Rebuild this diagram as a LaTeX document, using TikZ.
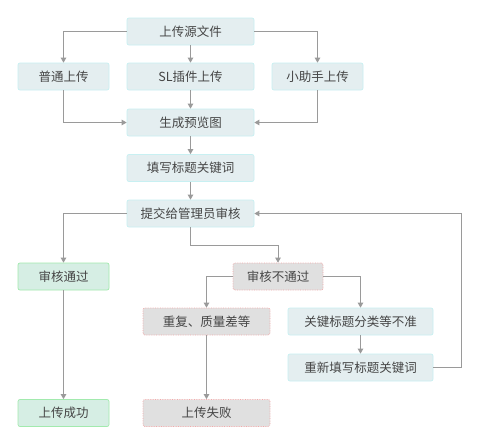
\documentclass[tikz,border=0pt]{standalone}
\usepackage{fontspec}
\setmainfont{Noto Sans CJK SC}
\usetikzlibrary{arrows.meta,positioning}
\definecolor{FlowLine}{HTML}{9A9A9A}
\definecolor{FlowText}{HTML}{454545}
\definecolor{StepBack}{HTML}{E4EEF0}
\definecolor{StepEdge}{HTML}{C8F0F2}
\definecolor{OkBack}{HTML}{D6EEE4}
\definecolor{OkEdge}{HTML}{A2EAAE}
\definecolor{BadBack}{HTML}{E0E0E0}
\definecolor{BadEdge}{HTML}{F2AAAA}
\tikzset{>={Triangle[length=5pt,width=5.5pt]},every node/.style={font=\fontsize{12.5}{14}\selectfont,text=FlowText},
 stepbox/.style={draw=StepEdge,fill=StepBack,rounded corners=2pt,line width=0.7pt,
 minimum height=27pt,inner sep=0pt},
 okbox/.style={stepbox,draw=OkEdge,fill=OkBack},
 badbox/.style={stepbox,draw=BadEdge,fill=BadBack,densely dotted},
 flow/.style={draw=FlowLine,line width=0.9pt,->}}
\begin{document}
\begin{tikzpicture}[x=1pt,y=-1pt]
\fill[white] (0,0) rectangle (480,445);
\node[stepbox,minimum width=127pt] (src) at (190.5,31.5) {上传源文件};
\node[stepbox,minimum width=91pt] (pt) at (63.5,76.5) {普通上传};
\node[stepbox,minimum width=127pt] (sl) at (190.5,76.5) {SL插件上传};
\node[stepbox,minimum width=91pt] (zs) at (317.5,76.5) {小助手上传};
\node[stepbox,minimum width=127pt] (pre) at (190.5,122.5) {生成预览图};
\node[stepbox,minimum width=127pt] (fill) at (190.5,168) {填写标题关键词};
\node[stepbox,minimum width=127pt] (sub) at (190.5,213.5) {提交给管理员审核};
\node[okbox,minimum width=91pt] (ok) at (63.5,276.5) {审核通过};
\node[badbox,minimum width=90pt] (bad) at (278,276.5) {审核不通过};
\node[badbox,minimum width=127pt] (dup) at (206.5,321.5) {重复、质量差等};
\node[stepbox,minimum width=145pt] (kw) at (360.5,321.5) {关键标题分类等不准};
\node[stepbox,minimum width=145pt] (redo) at (360.5,367.5) {重新填写标题关键词};
\node[okbox,minimum width=91pt] (succ) at (63.5,413) {上传成功};
\node[badbox,minimum width=127pt] (fail) at (206.5,413) {上传失败};
% upload ways
\draw[flow] (src.west) -| (pt.north);
\draw[flow] (src.south) -- (sl.north);
\draw[flow] (src.east) -| (zs.north);
\draw[flow] (pt.south) |- (pre.west);
\draw[flow] (sl.south) -- (pre.north);
\draw[flow] (zs.south) |- (pre.east);
\draw[flow] (pre.south) -- (fill.north);
\draw[flow] (fill.south) -- (sub.north);
% review
\draw[flow] (sub.west) -| (ok.north);
\draw[flow] (sub.south) -- ++(0,18.5) -| (bad.north);
\draw[flow] (bad.west) -| (dup.north);
\draw[flow] (bad.east) -| (kw.north);
\draw[flow] (kw.south) -- (redo.north);
\draw[flow] (redo.east) -- ++(28,0) |- (sub.east);
\draw[flow] (ok.south) -- (succ.north);
\draw[flow] (dup.south) -- (fail.north);
\end{tikzpicture}
\end{document}
